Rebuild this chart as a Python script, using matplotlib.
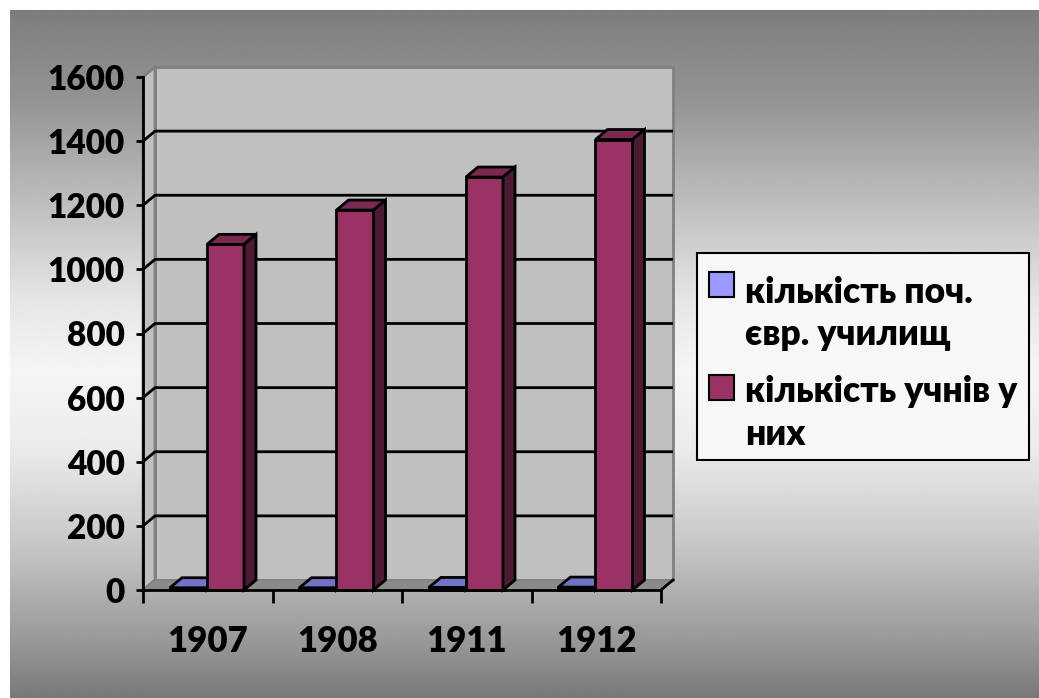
import numpy as np
import matplotlib
matplotlib.use('Agg')
import matplotlib.pyplot as plt
from matplotlib.patches import Polygon, Rectangle

plt.rcParams['font.family'] = ['Lato', 'DejaVu Sans']
FW = 'heavy'

# data
years = ['1907', '1908', '1911', '1912']
schools = [7, 7, 8, 9]               # кількість поч. євр. училищ
pupils = [1078, 1185, 1288, 1405]    # кількість учнів у них
series_names = ['кількість поч.\nєвр. училищ', 'кількість учнів у\nних']
yticks = [0, 200, 400, 600, 800, 1000, 1200, 1400, 1600]

W, H = 1039, 698
fig = plt.figure(figsize=(W / 100, H / 100), dpi=100, facecolor='white')

# gradient background (white margin on top/left)
bg = fig.add_axes([10 / W, 0, 1 - 10 / W, 1 - 10 / H], zorder=-10)
stops_y = [0, 90, 190, 290, 360, 440, 540, 640, 688]
stops_v = [0.49, 0.58, 0.74, 0.90, 0.96, 0.92, 0.77, 0.58, 0.47]
grad = np.interp(np.arange(689), stops_y, stops_v)
bg.imshow(np.repeat(grad[:, None], 2, axis=1), cmap='gray', vmin=0, vmax=1,
          aspect='auto', extent=[0, 1, 0, 1], interpolation='bilinear')
bg.axis('off')

# main axes = front plane of the 3D box
x0px, x1px, y0px, y1px = 143, 661, 590, 77
ax = fig.add_axes([x0px / W, (H - y0px) / H, (x1px - x0px) / W, (y0px - y1px) / H])
ax.set_xlim(0, 4)
ax.set_ylim(0, 1600)
ax.patch.set_alpha(0)

ncat = len(years)
dx = 12 / ((x1px - x0px) / ncat)     # depth offset in data units
dy = 10 / ((y0px - y1px) / 1600)
ymax = 1600

wall_c = '#c0c0c0'
border_c = '#808080'
# back wall
ax.add_patch(Rectangle((dx, dy), ncat, ymax, facecolor=wall_c, edgecolor=border_c,
                       lw=2, clip_on=False, zorder=0.5))
# left side wall
ax.add_patch(Polygon([(0, 0), (dx, dy), (dx, ymax + dy), (0, ymax)], closed=True,
                     facecolor=wall_c, edgecolor=border_c, lw=2, clip_on=False, zorder=0.6))
# floor
ax.add_patch(Polygon([(0, 0), (ncat, 0), (ncat + dx, dy), (dx, dy)], closed=True,
                     facecolor='#8a8a8a', edgecolor=border_c, lw=1, clip_on=False, zorder=0.7))
ax.plot([ncat, ncat + dx], [0, dy], color='black', lw=2, clip_on=False, zorder=0.8)

# gridlines on side and back walls
for v in yticks[1:-1]:
    ax.plot([0, dx, ncat + dx], [v, v + dy, v + dy], color='black', lw=2,
            clip_on=False, zorder=0.9, solid_capstyle='butt')


def bar3d(x, w, v, front, top, side):
    kw = dict(closed=True, edgecolor='black', lw=2, clip_on=False, zorder=2,
              joinstyle='miter')
    ax.add_patch(Polygon([(x, 0), (x + w, 0), (x + w, v), (x, v)], facecolor=front, **kw))
    ax.add_patch(Polygon([(x, v), (x + w, v), (x + w + dx, v + dy), (x + dx, v + dy)],
                         facecolor=top, **kw))
    ax.add_patch(Polygon([(x + w, 0), (x + w + dx, dy), (x + w + dx, v + dy), (x + w, v)],
                         facecolor=side, **kw))


bw = 0.286
for i in range(ncat):
    c = i + 0.494
    bar3d(c - bw, bw, schools[i], '#9999ff', '#7373c6', '#4c4c80')
    bar3d(c, bw, pupils[i], '#993366', '#7a2952', '#4d1a33')

# front axes
for s in ['top', 'right']:
    ax.spines[s].set_visible(False)
for s in ['left', 'bottom']:
    ax.spines[s].set_linewidth(2)
    ax.spines[s].set_zorder(3)
ax.set_yticks(yticks)
ax.set_yticklabels([str(v) for v in yticks])
ax.tick_params(axis='y', length=5, width=2, pad=8, labelsize=24)
ax.set_xticks(range(ncat + 1))
ax.set_xticklabels([])
ax.tick_params(axis='x', which='major', length=9, width=2)
ax.set_xticks(np.arange(ncat) + 0.5, minor=True)
ax.set_xticklabels(years, minor=True)
ax.tick_params(axis='x', which='minor', length=0, pad=25, labelsize=25)
for lab in ax.get_xticklabels(minor=True) + ax.get_yticklabels():
    lab.set_fontweight(FW)

# legend (drawn by hand to match the layout)
def fx(px):
    return px / W


def fy(py):
    return (H - py) / H


fig.patches.append(Rectangle((fx(697), fy(460)), fx(1029) - fx(697), fy(253) - fy(460),
                             transform=fig.transFigure, facecolor='#f7f7f7',
                             edgecolor='black', lw=1.5, zorder=5))
leg_colors = ['#9999ff', '#993366']
marker_top = [272, 375]
line_base = [[303, 345], [402, 445]]
for k in range(2):
    fig.patches.append(Rectangle((fx(709), fy(marker_top[k] + 25)), 25 / W, 25 / H,
                                 transform=fig.transFigure, facecolor=leg_colors[k],
                                 edgecolor='black', lw=1.5, zorder=6))
    for j, line in enumerate(series_names[k].split('\n')):
        fig.text(fx(745), fy(line_base[k][j]), line, fontsize=25.5, fontweight=FW,
                 va='baseline', ha='left', zorder=6)

fig.savefig('out.png', dpi=100, facecolor='white')
